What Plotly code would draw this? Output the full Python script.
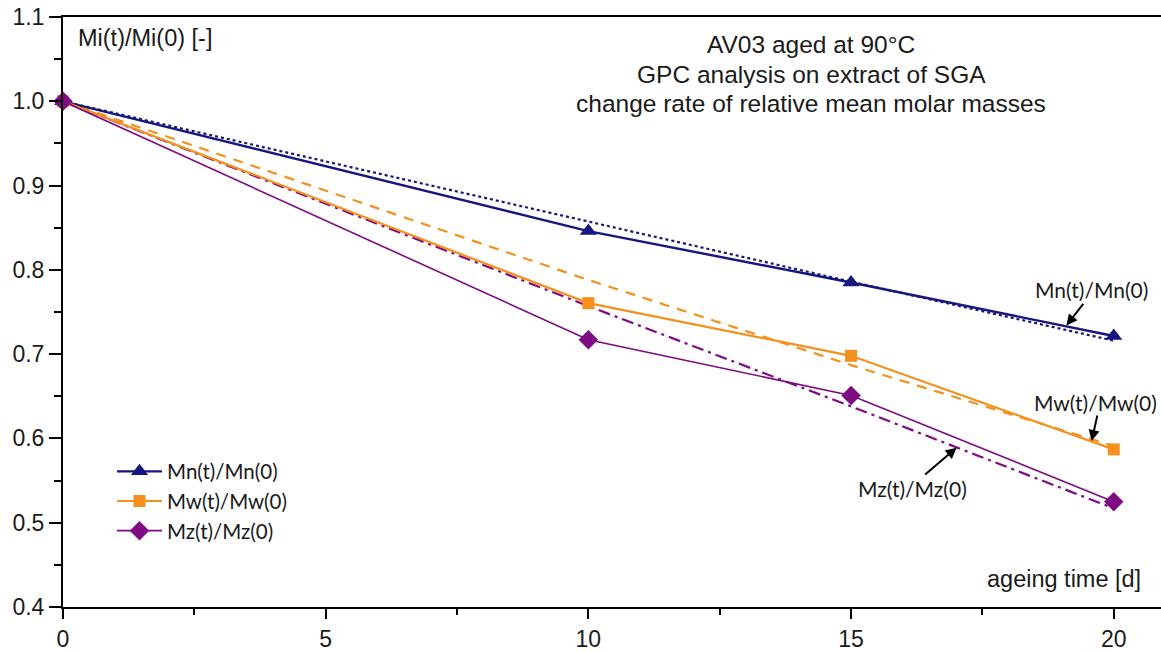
import plotly.graph_objects as go

# ---- data ----
t_days = [0, 10, 15, 20]
mn_rel = [1.0, 0.846, 0.785, 0.7215]
mw_rel = [1.0, 0.7605, 0.698, 0.587]
mz_rel = [1.0, 0.717, 0.651, 0.525]

fit_t = [0, 10, 15, 20]
mn_fit = [1.0, 0.857, 0.786, 0.716]
mw_fit = [1.0, 0.788, 0.687, 0.591]
mz_fit = [1.0, 0.757, 0.638, 0.517]

series_names = ["Mn(t)/Mn(0)", "Mw(t)/Mw(0)", "Mz(t)/Mz(0)"]
title_lines = ["AV03 aged at 90°C", "GPC analysis on extract of SGA",
               "change rate of relative mean molar masses"]
y_ticks = [0.4, 0.5, 0.6, 0.7, 0.8, 0.9, 1.0, 1.1]
x_ticks = [0, 5, 10, 15, 20]

NAVY = "#161680"
ORANGE = "#F5901C"
PURPLE = "#7E0A84"
TXT = "#1a1a1a"
ARIAL = "Liberation Sans, Arial, sans-serif"
LEG = "Lato, sans-serif"

fig = go.Figure()

# fit lines
fig.add_trace(go.Scatter(x=fit_t, y=mn_fit, mode="lines", showlegend=False,
                         line=dict(color=NAVY, width=2.2, dash="dot"), hoverinfo="skip"))
fig.add_trace(go.Scatter(x=fit_t, y=mw_fit, mode="lines", showlegend=False,
                         line=dict(color=ORANGE, width=2.2, dash="10px,8px"), hoverinfo="skip"))
fig.add_trace(go.Scatter(x=fit_t, y=mz_fit, mode="lines", showlegend=False,
                         line=dict(color=PURPLE, width=2.2, dash="12px,5px,3px,5px"), hoverinfo="skip"))

# data
fig.add_trace(go.Scatter(x=t_days, y=mn_rel, mode="lines+markers", name=series_names[0],
                         line=dict(color=NAVY, width=2.4),
                         marker=dict(symbol="triangle-up", size=15, color=NAVY), cliponaxis=False))
fig.add_trace(go.Scatter(x=t_days, y=mw_rel, mode="lines+markers", name=series_names[1],
                         line=dict(color=ORANGE, width=2.2),
                         marker=dict(symbol="square", size=12, color=ORANGE), cliponaxis=False))
fig.add_trace(go.Scatter(x=t_days, y=mz_rel, mode="lines+markers", name=series_names[2],
                         line=dict(color=PURPLE, width=1.6),
                         marker=dict(symbol="diamond", size=15, color=PURPLE), cliponaxis=False))

annotations = []
# title lines
for i, (line, yy) in enumerate(zip(title_lines, [45, 75, 104])):
    annotations.append(dict(text=line, xref="paper", yref="paper",
                            x=(811 - 63) / 1098, y=(609 - yy) / 592,
                            xanchor="center", yanchor="middle", showarrow=False,
                            font=dict(family=ARIAL, size=24.5, color=TXT)))
annotations.append(dict(text="Mi(t)/Mi(0) [-]", xref="paper", yref="paper",
                        x=(76 - 63) / 1098, y=(609 - 38) / 592,
                        xanchor="left", yanchor="middle", showarrow=False,
                        font=dict(family=ARIAL, size=23.5, color=TXT)))
annotations.append(dict(text="ageing time [d]", xref="paper", yref="paper",
                        x=(1143 - 63) / 1098, y=(609 - 581) / 592,
                        xanchor="right", yanchor="middle", showarrow=False,
                        font=dict(family=ARIAL, size=23.5, color=TXT)))

# curve labels with arrows
labels = [
    (series_names[0], 1091, 290, 19.1, 0.734, 18, -23),
    (series_names[1], 1095, 404, 19.58, 0.597, 6, -27),
    (series_names[2], 912, 490, 17.01, 0.589, -33, 28),
]
for text, lx, ly, tx, ty, ax, ay in labels:
    annotations.append(dict(text=text, xref="paper", yref="paper",
                            x=(lx - 63) / 1098, y=(609 - ly) / 592,
                            xanchor="center", yanchor="middle", showarrow=False,
                            font=dict(family=LEG, size=21, color=TXT)))
    annotations.append(dict(text="", x=tx, y=ty, xref="x", yref="y",
                            showarrow=True, ax=ax, ay=ay, axref="pixel", ayref="pixel",
                            arrowhead=2, arrowsize=1.1, arrowwidth=2, arrowcolor="black"))

fig.update_layout(
    width=1161, height=652,
    margin=dict(l=63, r=0, t=17, b=43),
    paper_bgcolor="white", plot_bgcolor="white",
    annotations=annotations,
    showlegend=True,
    legend=dict(x=(112 - 63) / 1098, y=(609 - 453) / 592, xanchor="left", yanchor="top",
                bgcolor="rgba(0,0,0,0)", font=dict(family=LEG, size=20.5, color=TXT),
                tracegroupgap=0, itemwidth=45),
)

fig.update_xaxes(range=[0, 20.9], tickvals=x_ticks, ticktext=[str(v) for v in x_ticks],
                 showgrid=False, zeroline=False, showline=True, linecolor="black", linewidth=2,
                 mirror=True, ticks="outside", ticklen=10, tickwidth=2, tickcolor="black",
                 tickfont=dict(family=ARIAL, size=23, color=TXT),
                 minor=dict(tickvals=[2.5, 7.5, 12.5, 17.5], ticks="outside", ticklen=6,
                            tickwidth=2, tickcolor="black"))
fig.update_yaxes(range=[0.4, 1.1], tickvals=y_ticks, ticktext=[f"{v:.1f}" for v in y_ticks],
                 showgrid=False, zeroline=False, showline=True, linecolor="black", linewidth=2,
                 ticks="outside", ticklen=12, tickwidth=2, tickcolor="black",
                 tickfont=dict(family=ARIAL, size=23, color=TXT),
                 minor=dict(tickvals=[0.45, 0.55, 0.65, 0.75, 0.85, 0.95, 1.05], ticks="outside",
                            ticklen=7, tickwidth=2, tickcolor="black"))

fig.write_html("out.html")
